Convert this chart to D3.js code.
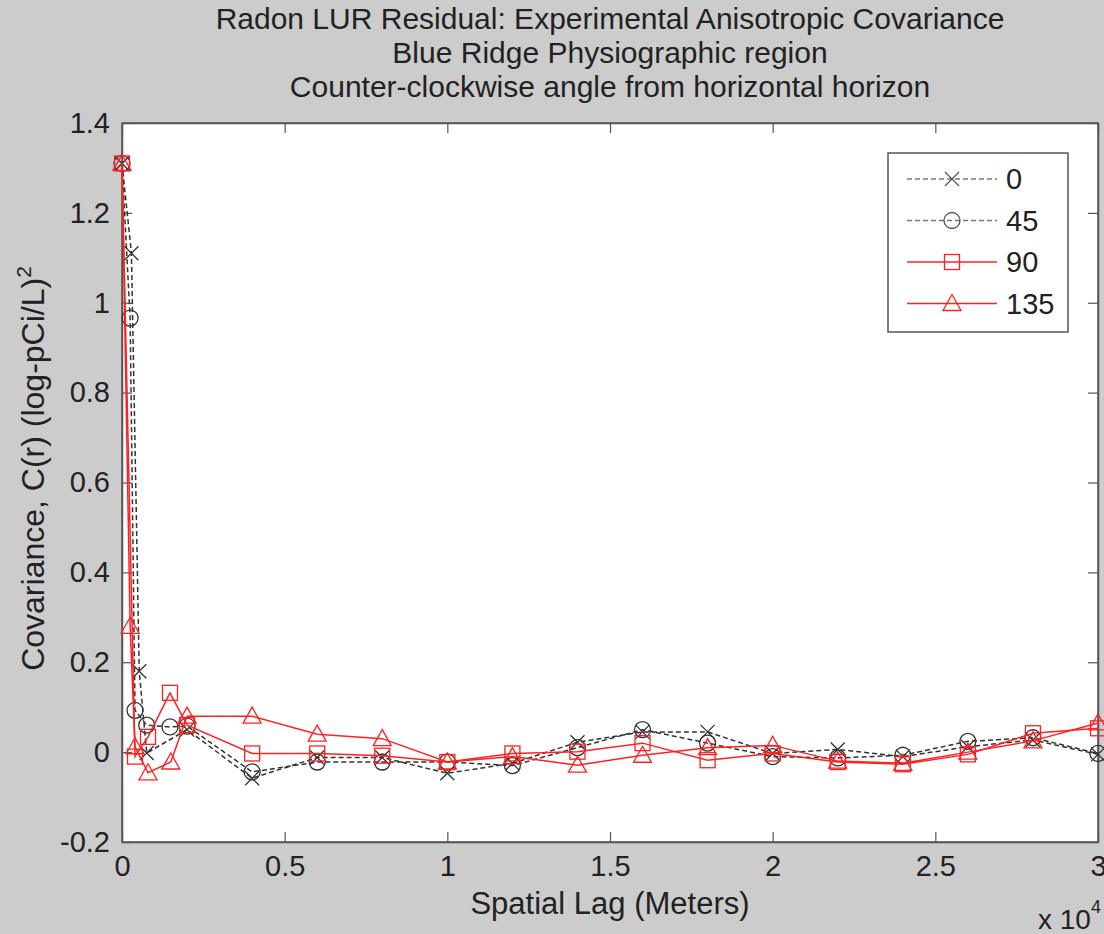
<!DOCTYPE html>
<html>
<head>
<meta charset="utf-8">
<script src="https://cdn.jsdelivr.net/npm/d3@7"></script>
<style>
  body { margin: 0; background: #cccccc; }
  svg text { font-family: "Liberation Sans", Arial, sans-serif; fill: #222; }
</style>
</head>
<body>
<div id="chart"></div>
<script>
// lag distances (m) and covariance values
var lag0   = [0, 290, 530, 760, 2000, 4000, 6000, 8000, 10000, 12000, 14000, 16000, 18000, 20000, 22000, 24000, 26000, 28000, 30000];
var cov0   = [1.31, 1.11, 0.18, -0.002, 0.05, -0.058, -0.012, -0.012, -0.047, -0.025, 0.022, 0.045, 0.045, -0.003, 0.006, -0.01, 0.012, 0.027, -0.005];
var lag45  = [0, 250, 400, 760, 1475, 2000, 4000, 6000, 8000, 10000, 12000, 14000, 16000, 18000, 20000, 22000, 24000, 26000, 28000, 30000];
var cov45  = [1.31, 0.966, 0.093, 0.06, 0.056, 0.058, -0.044, -0.022, -0.022, -0.022, -0.03, 0.01, 0.05, 0.02, -0.01, -0.013, -0.007, 0.024, 0.032, -0.003];
var lag90  = [0, 400, 800, 1475, 2000, 4000, 6000, 8000, 10000, 12000, 14000, 16000, 18000, 20000, 22000, 24000, 26000, 28000, 30000];
var cov90  = [1.31, -0.01, 0.034, 0.132, 0.06, -0.003, -0.003, -0.008, -0.022, -0.003, 0.001, 0.02, -0.018, -0.003, -0.022, -0.027, -0.005, 0.042, 0.053];
var lag135 = [0, 250, 400, 800, 1500, 2000, 4000, 6000, 8000, 10000, 12000, 14000, 16000, 18000, 20000, 22000, 24000, 26000, 28000, 30000];
var cov135 = [1.31, 0.28, 0.012, -0.046, -0.022, 0.08, 0.08, 0.04, 0.03, -0.022, -0.01, -0.029, -0.007, 0.01, 0.015, -0.02, -0.025, 0.0, 0.025, 0.065];

var seriesNames = ["0", "45", "90", "135"];
var xTicks = [0, 5000, 10000, 15000, 20000, 25000, 30000];
var xTickLabels = ["0", "0.5", "1", "1.5", "2", "2.5", "3"];
var yTicks = [-0.2, 0, 0.2, 0.4, 0.6, 0.8, 1, 1.2, 1.4];
var yTickLabels = ["-0.2", "0", "0.2", "0.4", "0.6", "0.8", "1", "1.2", "1.4"];

var W = 1104, H = 934;
var margin = { left: 122, right: 6, top: 123, bottom: 92 };
var width = W - margin.left - margin.right,
    height = H - margin.top - margin.bottom;

var svg = d3.select("#chart").append("svg")
    .attr("width", W)
    .attr("height", H);

svg.append("rect").attr("width", W).attr("height", H).attr("fill", "#cccccc");

var g = svg.append("g")
    .attr("transform", "translate(" + margin.left + "," + margin.top + ")");

var x = d3.scaleLinear().domain([0, 30000]).range([0, width]);
var y = d3.scaleLinear().domain([-0.2, 1.4]).range([height, 0]);

g.append("rect")
    .attr("width", width).attr("height", height)
    .attr("fill", "white");

// axes with inward ticks on all four sides
var tk = 10;
g.append("g").attr("class", "x axis")
    .attr("transform", "translate(0," + height + ")")
    .call(d3.axisBottom(x).tickValues(xTicks).tickSizeInner(-tk).tickSizeOuter(0).tickPadding(18)
        .tickFormat(function(d, i){ return xTickLabels[i]; }));
g.append("g")
    .call(d3.axisTop(x).tickValues(xTicks).tickSizeInner(-tk).tickSizeOuter(0).tickFormat(""));
g.append("g").attr("class", "y axis")
    .call(d3.axisLeft(y).tickValues(yTicks).tickSizeInner(-tk).tickSizeOuter(0).tickPadding(12)
        .tickFormat(function(d, i){ return yTickLabels[i]; }));
g.append("g")
    .attr("transform", "translate(" + width + ",0)")
    .call(d3.axisRight(y).tickValues(yTicks).tickSizeInner(-tk).tickSizeOuter(0).tickFormat(""));

g.selectAll(".domain").attr("stroke", "#555").attr("stroke-width", 1.5);
g.selectAll(".tick line").attr("stroke", "#555").attr("stroke-width", 1.2);
g.selectAll(".tick text").attr("font-size", "29px").attr("fill", "#222")
    .style("font-family", "Liberation Sans, Arial, sans-serif");
g.selectAll(".x.axis .tick text").attr("dy", "0.55em");

// box border
g.append("rect").attr("width", width).attr("height", height)
    .attr("fill", "none").attr("stroke", "#555").attr("stroke-width", 1.5);

var series = [
    { name: seriesNames[0], lag: lag0, cov: cov0, color: "#333", dash: "5,3", marker: "x" },
    { name: seriesNames[1], lag: lag45, cov: cov45, color: "#333", dash: "5,3", marker: "circle" },
    { name: seriesNames[2], lag: lag90, cov: cov90, color: "#ff2020", dash: null, marker: "square" },
    { name: seriesNames[3], lag: lag135, cov: cov135, color: "#ff2020", dash: null, marker: "triangle" }
];

var line = d3.line()
    .x(function(d){ return x(d[0]); })
    .y(function(d){ return y(d[1]); });

function drawMarker(sel, type, color) {
    var s = 7;
    if (type === "x") {
        sel.append("path").attr("d", "M" + (-s) + "," + (-s) + "L" + s + "," + s + "M" + (-s) + "," + s + "L" + s + "," + (-s))
            .attr("stroke", color).attr("stroke-width", 1.3).attr("fill", "none");
    } else if (type === "circle") {
        sel.append("circle").attr("r", 8)
            .attr("stroke", color).attr("stroke-width", 1.3).attr("fill", "none");
    } else if (type === "square") {
        sel.append("rect").attr("x", -7.5).attr("y", -7.5).attr("width", 15).attr("height", 15)
            .attr("stroke", color).attr("stroke-width", 1.3).attr("fill", "none");
    } else {
        sel.append("path").attr("d", "M0,-9L9,7L-9,7Z")
            .attr("stroke", color).attr("stroke-width", 1.3).attr("fill", "none");
    }
}

series.forEach(function(s){
    var pts = s.lag.map(function(d, i){ return [d, s.cov[i]]; });
    var sg = g.append("g").attr("class", "series");
    sg.append("path")
        .attr("d", line(pts))
        .attr("fill", "none")
        .attr("stroke", s.color)
        .attr("stroke-width", 1.5)
        .attr("stroke-dasharray", s.dash);
    sg.selectAll("g.pt").data(pts).enter()
        .append("g").attr("class", "pt")
        .attr("transform", function(d){ return "translate(" + x(d[0]) + "," + y(d[1]) + ")"; })
        .each(function(){ drawMarker(d3.select(this), s.marker, s.color); });
});

// legend
var leg = svg.append("g").attr("transform", "translate(888,153)");
leg.append("rect").attr("width", 180).attr("height", 179)
    .attr("fill", "white").attr("stroke", "#555").attr("stroke-width", 1.5);
series.forEach(function(s, i){
    var ly = 26 + i * 41.5;
    leg.append("line").attr("x1", 19).attr("x2", 109).attr("y1", ly).attr("y2", ly)
        .attr("stroke", s.dash ? "#777" : s.color).attr("stroke-width", 1.5)
        .attr("stroke-dasharray", s.dash);
    var m = leg.append("g").attr("transform", "translate(64," + ly + ")");
    drawMarker(m, s.marker, s.dash ? "#555" : s.color);
    leg.append("text").attr("x", 118).attr("y", ly).attr("dy", "0.36em")
        .attr("font-size", "29px").text(s.name);
});

// titles
var titles = ["Radon LUR Residual: Experimental Anisotropic Covariance",
              "Blue Ridge Physiographic region",
              "Counter-clockwise angle from horizontal horizon"];
svg.selectAll("text.title").data(titles).enter()
    .append("text").attr("class", "title")
    .attr("x", margin.left + width / 2)
    .attr("y", function(d, i){ return 29 + i * 34; })
    .attr("text-anchor", "middle")
    .attr("font-size", "30px")
    .text(function(d){ return d; });

// axis labels
svg.append("text")
    .attr("x", margin.left + width / 2).attr("y", 914)
    .attr("text-anchor", "middle").attr("font-size", "31px")
    .text("Spatial Lag (Meters)");

var xm = svg.append("text").attr("x", 1038).attr("y", 929).attr("font-size", "28px");
xm.append("tspan").text("x 10");
xm.append("tspan").attr("dy", -16).attr("font-size", "18px").text("4");

var yl = svg.append("text")
    .attr("transform", "translate(44," + (margin.top + height / 2 - 14) + ") rotate(-90)")
    .attr("text-anchor", "middle").attr("font-size", "32px");
yl.append("tspan").text("Covariance, C(r) (log-pCi/L)");
yl.append("tspan").attr("dy", -13).attr("font-size", "21px").text("2");
</script>
</body>
</html>
